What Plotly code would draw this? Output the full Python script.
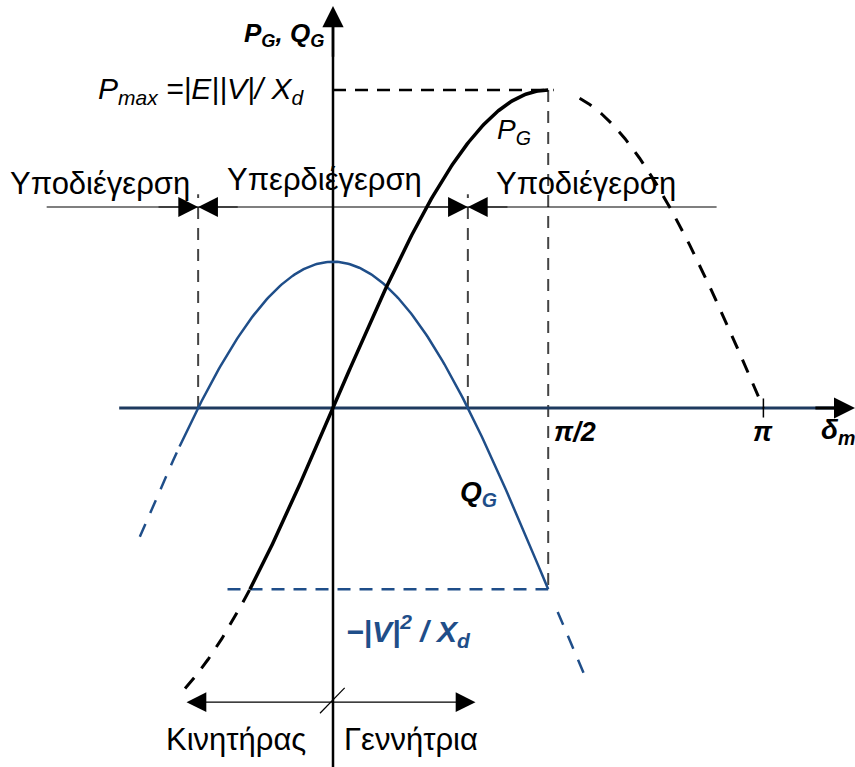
import numpy as np
import plotly.graph_objects as go

# Power-angle characteristics of a round-rotor synchronous generator
P_MAX = 1.0          # |E||V|/X_d  (per unit of the drawing)
Q_AMP = 1.03         # amplitude of the cosine term in Q_G
V2_XD = 0.57         # |V|^2/X_d

# Extents (in rad) of the drawn portions of each curve
p_dash_left = (-1.08, float(np.arcsin(-V2_XD / P_MAX)))
p_solid = (float(np.arcsin(-V2_XD / P_MAX)), np.pi / 2)
p_dash_right = (1.80, np.pi)
q_dash_left = (-1.41, -1.12)
q_solid = (-1.12, np.pi / 2)
q_dash_right = (1.64, 1.84)

tick_values = [np.pi / 2, np.pi]
tick_labels = ["π/2", "π"]

region_labels = ["Υποδιέγερση", "Υπερδιέγερση", "Υποδιέγερση"]
mode_labels = ["Κινητήρας", "Γεννήτρια"]

NAVY = "#1F4E89"
AXIS = "#1E3A5F"
GREY = "#444444"
FONT = "Liberation Sans, Arial, sans-serif"

# pixel scale of the drawing
W, H = 855, 767
X0_PX, Y0_PX = 333, 408
PX_PER_RAD, PX_PER_UNIT = 137.0, 318.0
x_range = [-X0_PX / PX_PER_RAD, (W - X0_PX) / PX_PER_RAD]
y_range = [-(H - Y0_PX) / PX_PER_UNIT, Y0_PX / PX_PER_UNIT]


def p_curve(a, b, n=200):
    d = np.linspace(a, b, n)
    return d, P_MAX * np.sin(d)


def q_curve(a, b, n=200):
    d = np.linspace(a, b, n)
    return d, Q_AMP * np.cos(d) - V2_XD


fig = go.Figure()


def line(x, y, color, width, dash="solid"):
    fig.add_trace(go.Scatter(x=x, y=y, mode="lines", hoverinfo="skip",
                             line=dict(color=color, width=width, dash=dash)))


d_zero = float(np.arccos(V2_XD / Q_AMP))   # Q_G = 0 crossings
y_band = 0.632                              # level of the excitation arrows
y_mode = -0.925                             # level of the motor/generator arrow

# guide lines
line([d_zero, d_zero], [0, y_band + 0.04], GREY, 2, "12px,9px")
line([-d_zero, -d_zero], [0, y_band + 0.04], GREY, 2, "12px,9px")
line([np.pi / 2, np.pi / 2], [P_MAX, -V2_XD], GREY, 2, "12px,9px")
line([0, np.pi / 2 + 0.04], [P_MAX, P_MAX], "black", 2.5, "13px,9px")
line([-0.77, np.pi / 2], [-V2_XD, -V2_XD], NAVY, 2.5, "13px,9px")

# horizontal axis
line([x_range[0] + 1.57 - 0.7, x_range[1] - 0.05], [0, 0], AXIS, 3)
# vertical axis
line([0, 0], [y_range[0], y_range[1] - 0.05], "black", 2.5)

# Q_G curve
d, q = q_curve(*q_solid)
line(d, q, NAVY, 2.5)
d, q = q_curve(*q_dash_left)
line(d, q, NAVY, 2.5, "14px,12px")
d, q = q_curve(*q_dash_right)
line(d, q, NAVY, 2.5, "14px,12px")

# P_G curve
d, p = p_curve(*p_solid)
line(d, p, "black", 3.5)
d, p = p_curve(*p_dash_left)
line(d, p, "black", 3, "14px,12px")
d, p = p_curve(*p_dash_right)
line(d, p, "black", 3, "14px,12px")

# tick at pi
line([np.pi, np.pi], [-0.03, 0.03], "black", 1.5)
# excitation band line
line([-2.09, 2.80], [y_band, y_band], "black", 1.2)
# slash on the motor/generator arrow
line([-0.095, 0.085], [y_mode - 0.035, y_mode + 0.045], "black", 1.2)

ann = []


def arrow(x, y, ax, ay, width, size, side="end"):
    ann.append(dict(x=x, y=y, ax=ax, ay=ay, xref="x", yref="y", axref="x", ayref="y",
                    text="", showarrow=True, arrowhead=2, arrowsize=size,
                    arrowwidth=width, arrowcolor="black", arrowside=side))


# axis arrowheads
arrow(x_range[1], 0, x_range[1] - 0.3, 0, 3, 1.4)
arrow(0, (Y0_PX - 6) / PX_PER_UNIT, 0, 1.1, 2.5, 1.7)
# excitation arrows
arrow(-d_zero, y_band, -d_zero - 0.3, y_band, 1.2, 3.3)
arrow(-d_zero, y_band, -d_zero + 0.3, y_band, 1.2, 3.3)
arrow(d_zero, y_band, d_zero - 0.3, y_band, 1.2, 3.3)
arrow(d_zero, y_band, d_zero + 0.3, y_band, 1.2, 3.3)
# motor / generator arrow
arrow(1.04, y_mode, -1.08, y_mode, 1.2, 3.3, "end+start")


def text(x, y, s, size, color="black", xanchor="center", bold=False, italic=False):
    ann.append(dict(x=x, y=y, xref="x", yref="y", text=s, showarrow=False,
                    xanchor=xanchor, yanchor="middle",
                    font=dict(family=FONT, size=size, color=color,
                              weight="bold" if bold else "normal",
                              style="italic" if italic else "normal")))


text(-0.36, 1.175, "P<sub>G</sub>, Q<sub>G</sub>", 26, bold=True, italic=True)
text(-0.20, 1.0, "P<sub>max</sub> =|E||V|/ X<sub>d</sub>", 30, xanchor="right", italic=True)
text(1.32, 0.87, "P<sub>G</sub>", 28, italic=True)
text(1.06, -0.27, "Q<sub><span style='color:%s'>G</span></sub>" % NAVY, 28, bold=True,
     italic=True)
text(0.08, -0.70, "−|V|<sup>2</sup> / X<sub>d</sub>", 30, color=NAVY, xanchor="left",
     bold=True, italic=True)
text(np.pi / 2 + 0.03, -0.075, tick_labels[0], 27, xanchor="left", bold=True, italic=True)
text(np.pi, -0.075, tick_labels[1], 27, bold=True, italic=True)
text(3.55, -0.075, "δ<sub>m</sub>", 28, xanchor="left", bold=True, italic=True)

text(-1.70, 0.706, region_labels[0], 31)
text(-0.06, 0.718, region_labels[1], 31)
text(1.85, 0.706, region_labels[2], 31)
text(-0.71, -1.044, mode_labels[0], 31)
text(0.57, -1.044, mode_labels[1], 31)

fig.update_layout(
    width=W, height=H, margin=dict(l=0, r=0, t=0, b=0),
    paper_bgcolor="white", plot_bgcolor="white", showlegend=False,
    xaxis=dict(range=x_range, visible=False, fixedrange=True),
    yaxis=dict(range=y_range, visible=False, fixedrange=True),
    annotations=ann,
)

fig.write_html("out.html")
